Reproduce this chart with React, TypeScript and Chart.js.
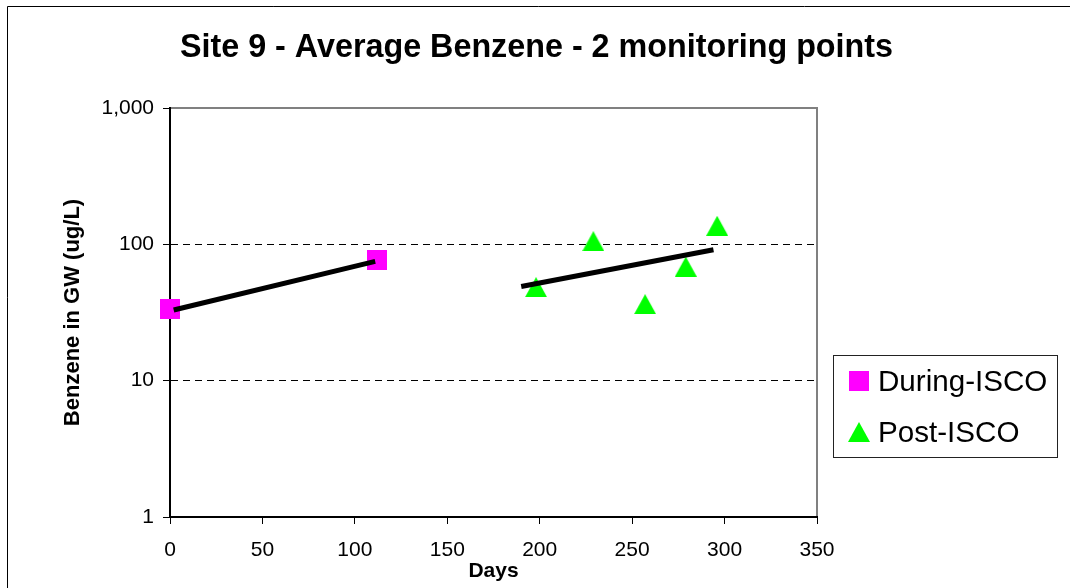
import React, { useEffect, useRef } from 'react';
import { Chart, registerables } from 'chart.js';

Chart.register(...registerables);

// ---- data ----
const duringDays = [0, 112];
const duringBenzene = [33.7, 77.4];
const postDays = [198, 229, 257, 279, 296];
const postBenzene = [48.5, 105.5, 36.4, 68.6, 136.8];
const duringTrendDays = [2, 111];
const duringTrendBenzene = [33, 75];
const postTrendDays = [190, 294];
const postTrendBenzene = [49.1, 91.2];
const xTickValues = [0, 50, 100, 150, 200, 250, 300, 350];
const yTickValues = [1, 10, 100, 1000];
const seriesNames = ['During-ISCO', 'Post-ISCO'];
const titleText = 'Site 9 - Average Benzene - 2 monitoring points';
const xTitleText = 'Days';
const yTitleText = 'Benzene in GW (ug/L)';

const FONT = '"Liberation Sans", Arial, sans-serif';
const MAGENTA = '#FF00FF';
const GREEN = '#00FF00';

function makeSquare(size: number, color: string) {
  const c = document.createElement('canvas');
  c.width = size;
  c.height = size;
  const g = c.getContext('2d')!;
  g.fillStyle = color;
  g.fillRect(0, 0, size, size);
  return c;
}

function makeTriangle(w: number, h: number, color: string) {
  const c = document.createElement('canvas');
  c.width = w;
  c.height = h;
  const g = c.getContext('2d')!;
  g.fillStyle = color;
  g.beginPath();
  g.moveTo(0, h);
  g.lineTo(w / 2, 0);
  g.lineTo(w, h);
  g.closePath();
  g.fill();
  return c;
}

function toPoints(xs: number[], ys: number[]) {
  return xs.map((x, i) => ({ x, y: ys[i] }));
}

export default function App() {
  const ref = useRef<HTMLCanvasElement | null>(null);

  useEffect(() => {
    document.body.style.margin = '0';
    const canvas = ref.current;
    if (!canvas) return;
    const square = makeSquare(20, MAGENTA);
    const triangle = makeTriangle(22, 20, GREEN);

    const decor = {
      id: 'decor',
      beforeDraw(chart: any) {
        const { ctx, width, height, chartArea: a } = chart;
        ctx.save();
        ctx.fillStyle = '#fff';
        ctx.fillRect(0, 0, width, height);
        // outer frame
        ctx.strokeStyle = '#000';
        ctx.lineWidth = 1;
        ctx.beginPath();
        ctx.moveTo(7.5, height);
        ctx.lineTo(7.5, 6.5);
        ctx.lineTo(width, 6.5);
        ctx.stroke();
        // title
        ctx.fillStyle = '#000';
        ctx.font = `bold 32.3px ${FONT}`;
        ctx.textAlign = 'center';
        ctx.textBaseline = 'alphabetic';
        ctx.fillText(titleText, 536.5, 57);
        // plot area top/right border
        ctx.strokeStyle = '#808080';
        ctx.lineWidth = 2;
        ctx.beginPath();
        ctx.moveTo(a.left, a.top);
        ctx.lineTo(a.right, a.top);
        ctx.lineTo(a.right, a.bottom);
        ctx.stroke();
        // legend
        ctx.strokeStyle = '#222';
        ctx.lineWidth = 1;
        ctx.strokeRect(833.5, 355.5, 224, 102);
        ctx.drawImage(square, 849, 371);
        ctx.drawImage(triangle, 848, 422);
        ctx.font = `29.6px ${FONT}`;
        ctx.textAlign = 'left';
        ctx.fillStyle = '#000';
        ctx.fillText(seriesNames[0], 878, 391);
        ctx.fillText(seriesNames[1], 878, 442);
        ctx.restore();
      },
    };

    const chart = new Chart(canvas, {
      type: 'scatter',
      data: {
        datasets: [
          {
            label: seriesNames[0] + ' trend',
            data: toPoints(duringTrendDays, duringTrendBenzene),
            showLine: true,
            borderColor: '#000',
            borderWidth: 5,
            pointRadius: 0,
            borderCapStyle: 'butt',
            order: 0,
            clip: false,
          } as any,
          {
            label: seriesNames[1] + ' trend',
            data: toPoints(postTrendDays, postTrendBenzene),
            showLine: true,
            borderColor: '#000',
            borderWidth: 5,
            pointRadius: 0,
            borderCapStyle: 'butt',
            order: 0,
            clip: false,
          } as any,
          {
            label: seriesNames[0],
            data: toPoints(duringDays, duringBenzene),
            pointStyle: square,
            pointRadius: 10,
            backgroundColor: MAGENTA,
            borderColor: MAGENTA,
            order: 1,
            clip: false,
          } as any,
          {
            label: seriesNames[1],
            data: toPoints(postDays, postBenzene),
            pointStyle: triangle,
            pointRadius: 10,
            backgroundColor: GREEN,
            borderColor: GREEN,
            order: 1,
            clip: false,
          } as any,
        ],
      },
      options: {
        responsive: false,
        animation: false,
        devicePixelRatio: 1,
        events: [],
        layout: { padding: { left: 0, top: 108, right: 253, bottom: 0 } },
        plugins: {
          legend: { display: false },
          title: { display: false },
          tooltip: { enabled: false },
        },
        scales: {
          x: {
            type: 'linear',
            position: 'bottom',
            min: 0,
            max: 350,
            afterBuildTicks: (s: any) => {
              s.ticks = xTickValues.map((v) => ({ value: v }));
            },
            afterFit: (s: any) => {
              s.height = 71;
            },
            ticks: {
              color: '#000',
              font: { family: FONT, size: 21 },
              padding: 14,
              maxRotation: 0,
              autoSkip: false,
            },
            grid: {
              drawOnChartArea: false,
              drawTicks: true,
              tickLength: 7,
              tickColor: '#000',
              tickWidth: 1,
            },
            border: { display: true, color: '#000', width: 2 },
            title: {
              display: true,
              text: xTitleText,
              color: '#000',
              font: { family: FONT, size: 21, weight: 'bold' },
              padding: { top: 0, bottom: 4 },
            },
          },
          y: {
            type: 'logarithmic',
            min: 1,
            max: 1000,
            afterBuildTicks: (s: any) => {
              s.ticks = yTickValues.map((v) => ({ value: v }));
            },
            afterFit: (s: any) => {
              s.width = 170;
            },
            ticks: {
              color: '#000',
              font: { family: FONT, size: 21 },
              padding: 9,
              autoSkip: false,
              callback: (v: any) => Number(v).toLocaleString('en-US'),
            },
            grid: {
              color: (c: any) =>
                c.tick && (c.tick.value === 10 || c.tick.value === 100) ? '#000' : 'rgba(0,0,0,0)',
              lineWidth: 1,
              drawTicks: true,
              tickLength: 7,
              tickColor: '#000',
              tickWidth: 1,
            },
            border: { display: true, color: '#000', width: 2, dash: [7, 5] },
            title: {
              display: true,
              text: yTitleText,
              color: '#000',
              font: { family: FONT, size: 22, weight: 'bold' },
              padding: { top: 60, bottom: 0 },
            },
          },
        },
      } as any,
      plugins: [decor],
    });

    return () => chart.destroy();
  }, []);

  return (
    <div style={{ width: 1070, height: 588 }}>
      <canvas ref={ref} width={1070} height={588} style={{ display: 'block' }} />
    </div>
  );
}
